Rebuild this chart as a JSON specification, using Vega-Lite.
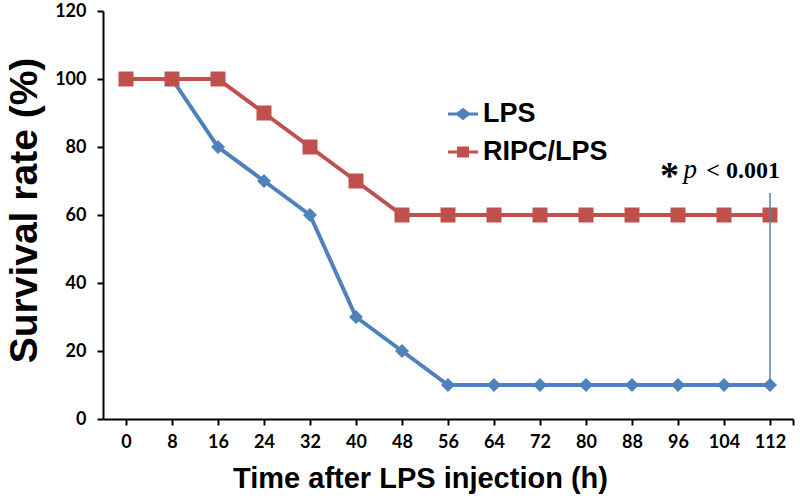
{
  "$schema": "https://vega.github.io/schema/vega-lite/v6.json",
  "width": 690,
  "height": 408,
  "autosize": {"type": "none"},
  "padding": {"left": 103, "top": 11, "right": 7, "bottom": 81},
  "background": "white",
  "config": {
    "view": {"stroke": null},
    "legend": {
      "orient": "none", "legendX": 345, "legendY": 88,
      "symbolSize": 900, "labelFontSize": 27, "labelFont": "Liberation Sans", "labelFontWeight": "bold",
      "labelColor": "black", "labelOffset": 5, "rowPadding": 10, "padding": 0,
      "symbolStrokeWidth": 0, "symbolOpacity": 1
    }
  },
  "datasets": {
    "surv": [
      {"time": 0, "rate": 100, "group": "LPS"},
      {"time": 8, "rate": 100, "group": "LPS"},
      {"time": 16, "rate": 80, "group": "LPS"},
      {"time": 24, "rate": 70, "group": "LPS"},
      {"time": 32, "rate": 60, "group": "LPS"},
      {"time": 40, "rate": 30, "group": "LPS"},
      {"time": 48, "rate": 20, "group": "LPS"},
      {"time": 56, "rate": 10, "group": "LPS"},
      {"time": 64, "rate": 10, "group": "LPS"},
      {"time": 72, "rate": 10, "group": "LPS"},
      {"time": 80, "rate": 10, "group": "LPS"},
      {"time": 88, "rate": 10, "group": "LPS"},
      {"time": 96, "rate": 10, "group": "LPS"},
      {"time": 104, "rate": 10, "group": "LPS"},
      {"time": 112, "rate": 10, "group": "LPS"},
      {"time": 0, "rate": 100, "group": "RIPC/LPS"},
      {"time": 8, "rate": 100, "group": "RIPC/LPS"},
      {"time": 16, "rate": 100, "group": "RIPC/LPS"},
      {"time": 24, "rate": 90, "group": "RIPC/LPS"},
      {"time": 32, "rate": 80, "group": "RIPC/LPS"},
      {"time": 40, "rate": 70, "group": "RIPC/LPS"},
      {"time": 48, "rate": 60, "group": "RIPC/LPS"},
      {"time": 56, "rate": 60, "group": "RIPC/LPS"},
      {"time": 64, "rate": 60, "group": "RIPC/LPS"},
      {"time": 72, "rate": 60, "group": "RIPC/LPS"},
      {"time": 80, "rate": 60, "group": "RIPC/LPS"},
      {"time": 88, "rate": 60, "group": "RIPC/LPS"},
      {"time": 96, "rate": 60, "group": "RIPC/LPS"},
      {"time": 104, "rate": 60, "group": "RIPC/LPS"},
      {"time": 112, "rate": 60, "group": "RIPC/LPS"}
    ],
    "note": [{"time": 112, "rate": 71}],
    "sig": [{"time": 112, "lo": 10, "hi": 66.5}]
  },
  "layer": [
    {
      "data": {"name": "surv"},
      "mark": {"type": "point", "filled": true, "opacity": 0},
      "encoding": {
        "x": {
          "field": "time", "type": "quantitative",
          "scale": {"domain": [-4, 116], "nice": false, "zero": false},
          "axis": {
            "values": [0, 8, 16, 24, 32, 40, 48, 56, 64, 72, 80, 88, 96, 104, 112, 116],
            "labelExpr": "datum.value > 112 ? '' : datum.label",
            "title": "Time after LPS injection (h)",
            "titleFont": "Liberation Sans", "titleFontSize": 29, "titleFontWeight": "bold", "titleColor": "black",
            "titleX": 317, "titleY": 68, "titleBaseline": "alphabetic", "titleAlign": "center",
            "labelFont": "Lato", "labelFontSize": 18, "labelFontWeight": "bold", "labelColor": "black",
            "labelPadding": 8, "labelFlush": false, "labelOverlap": false,
            "tickSize": 6, "tickColor": "black", "tickWidth": 2,
            "domainColor": "black", "domainWidth": 2, "grid": false
          }
        },
        "y": {
          "field": "rate", "type": "quantitative",
          "scale": {"domain": [0, 120], "nice": false},
          "axis": {
            "values": [0, 20, 40, 60, 80, 100, 120],
            "title": "Survival rate (%)",
            "titleFont": "Liberation Sans", "titleFontSize": 39, "titleFontWeight": "bold", "titleColor": "black",
            "titleAngle": -90, "titleX": -67, "titleY": 199, "titleBaseline": "alphabetic", "titleAlign": "center",
            "labelFont": "Lato", "labelFontSize": 18, "labelFontWeight": "bold", "labelColor": "black",
            "labelPadding": 11, "labelFlush": false, "labelOverlap": false,
            "tickSize": 6, "tickColor": "black", "tickWidth": 2,
            "domainColor": "black", "domainWidth": 2, "grid": false
          }
        },
        "color": {
          "field": "group", "type": "nominal",
          "scale": {"domain": ["LPS", "RIPC/LPS"], "range": ["#4F81BD", "#C0504D"]},
          "legend": {"title": null}
        },
        "shape": {
          "field": "group", "type": "nominal",
          "scale": {"domain": ["LPS", "RIPC/LPS"], "range": ["M-1,-0.1H1V0.1H-1Z M0,-0.42L0.53,0L0,0.42L-0.53,0Z", "M-1,-0.1H1V0.1H-1Z M-0.4,-0.37H0.4V0.37H-0.4Z"]},
          "legend": {"title": null}
        }
      }
    },
    {
      "data": {"name": "surv"},
      "mark": {"type": "line", "strokeWidth": 4},
      "encoding": {
        "x": {"field": "time", "type": "quantitative"},
        "y": {"field": "rate", "type": "quantitative"},
        "color": {"field": "group", "type": "nominal", "legend": null}
      }
    },
    {
      "data": {"name": "surv"},
      "transform": [{"filter": "datum.group === 'LPS'"}],
      "mark": {"type": "point", "filled": true, "opacity": 1, "shape": "diamond", "size": 196},
      "encoding": {
        "x": {"field": "time", "type": "quantitative"},
        "y": {"field": "rate", "type": "quantitative"},
        "color": {"field": "group", "type": "nominal", "legend": null}
      }
    },
    {
      "data": {"name": "surv"},
      "transform": [{"filter": "datum.group === 'RIPC/LPS'"}],
      "mark": {"type": "point", "filled": true, "opacity": 1, "shape": "square", "size": 225},
      "encoding": {
        "x": {"field": "time", "type": "quantitative"},
        "y": {"field": "rate", "type": "quantitative"},
        "color": {"field": "group", "type": "nominal", "legend": null}
      }
    },
    {
      "data": {"name": "sig"},
      "mark": {"type": "rule", "color": "#4F81BD", "strokeWidth": 1.5},
      "encoding": {
        "x": {"field": "time", "type": "quantitative"},
        "y": {"field": "lo", "type": "quantitative"},
        "y2": {"field": "hi"}
      }
    },
    {
      "data": {"name": "note"},
      "mark": {"type": "text", "text": "< 0.001", "font": "Liberation Serif", "fontSize": 24, "fontWeight": "bold", "align": "right", "baseline": "alphabetic", "dx": 10, "color": "black"},
      "encoding": {
        "x": {"field": "time", "type": "quantitative"},
        "y": {"field": "rate", "type": "quantitative"}
      }
    },
    {
      "data": {"name": "note"},
      "mark": {"type": "text", "text": "p", "font": "Liberation Serif", "fontSize": 27, "fontStyle": "italic", "fontWeight": "normal", "align": "right", "baseline": "alphabetic", "dx": -73, "color": "black"},
      "encoding": {
        "x": {"field": "time", "type": "quantitative"},
        "y": {"field": "rate", "type": "quantitative"}
      }
    },
    {
      "data": {"name": "note"},
      "mark": {"type": "text", "text": "*", "font": "Liberation Serif", "fontSize": 38, "fontWeight": "bold", "align": "right", "baseline": "alphabetic", "dx": -91, "dy": 10, "color": "black"},
      "encoding": {
        "x": {"field": "time", "type": "quantitative"},
        "y": {"field": "rate", "type": "quantitative"}
      }
    }
  ]
}
